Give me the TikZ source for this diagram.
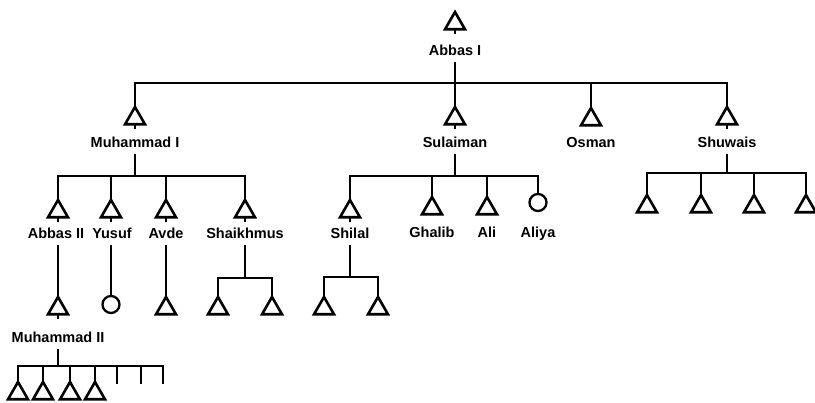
\documentclass[tikz,border=0pt]{standalone}
\usepackage{fontspec}
\setmainfont{Liberation Sans}
\usetikzlibrary{shapes.geometric}
\begin{document}
\begin{tikzpicture}[x=1pt,y=-1pt,line width=2.7pt,
 male/.style={regular polygon,regular polygon sides=3,draw,fill=white,minimum size=23pt,inner sep=0pt,outer sep=0pt,anchor=north,line width=2.6pt},
 female/.style={circle,draw,fill=white,minimum size=17pt,inner sep=0pt,outer sep=0pt,anchor=north,line width=2.3pt},
 lbl/.style={font=\bfseries\fontsize{14.5}{15}\selectfont,inner xsep=1pt,inner ysep=5pt,text height=11pt,text depth=0pt},
 stub/.style={line width=2.7pt}]
\useasboundingbox (0,0) rectangle (815,403);
% generation 0
\node[male] (t0) at (455,12) {};
\node[lbl] (l0) at (455,50) {Abbas I};
\coordinate (b0) at (455,83);
% generation 1
\node[male] (t1) at (135,107) {};
\node[lbl] (l1) at (135,142) {Muhammad I};
\node[male] (t2) at (455,107) {};
\node[lbl] (l2) at (455,142) {Sulaiman};
\node[male] (t3) at (591,108) {};
\node[lbl] (l3) at (591,142) {Osman};
\node[male] (t4) at (727,107) {};
\node[lbl] (l4) at (727,142) {Shuwais};
% Muhammad I's children
\coordinate (b1) at (135,176);
\node[male] (t11) at (58,200) {};
\node[lbl] (l11) at (56,233) {Abbas II};
\node[male] (t12) at (111,200) {};
\node[lbl] (l12) at (112,233) {Yusuf};
\node[male] (t13) at (166,200) {};
\node[lbl] (l13) at (166,233) {Avde};
\node[male] (t14) at (245,200) {};
\node[lbl] (l14) at (245,233) {Shaikhmus};
% Abbas II
\node[male] (t111) at (58,297) {};
\node[lbl] (l111) at (58,337) {Muhammad II};
\coordinate (b111) at (58,366);
\node[male] (m1) at (18,382) {};
\node[male] (m2) at (43,382) {};
\node[male] (m3) at (70,382) {};
\node[male] (m4) at (95,382) {};
\coordinate (m5) at (117,384);
\coordinate (m6) at (141,384);
\coordinate (m7) at (163,384);
% Yusuf, Avde
\node[female] (f121) at (111,296) {};
\node[male] (t131) at (166,297) {};
% Shaikhmus
\coordinate (b14) at (245,278);
\node[male] (t141) at (218,297) {};
\node[male] (t142) at (272,297) {};
% Sulaiman's children
\coordinate (b2) at (455,176);
\node[male] (t21) at (350,200) {};
\node[lbl] (l21) at (350,233) {Shilal};
\node[male] (t22) at (432,197) {};
\node[lbl] (l22) at (432,232) {Ghalib};
\node[male] (t23) at (487,197) {};
\node[lbl] (l23) at (487,232) {Ali};
\node[female] (f24) at (538,194) {};
\node[lbl] (l24) at (538,232) {Aliya};
% Shilal
\coordinate (b21) at (350,277);
\node[male] (t211) at (324,297) {};
\node[male] (t212) at (378,297) {};
% Shuwais
\coordinate (b4) at (727,173);
\node[male] (t41) at (647,195) {};
\node[male] (t42) at (701,195) {};
\node[male] (t43) at (754,195) {};
\node[male] (t44) at (806,195) {};
% stubs below triangles
\foreach \n in {t0,t1,t2,t4,t11,t12,t13,t14,t21,t111}
  \draw[stub] (\n.south) -- ++(0,5);
% connectors
\draw (l0.south) -- (b0);
\foreach \n in {t1,t2,t3,t4} \draw (\n.north) |- (b0);
\draw (l1.south) -- (b1);
\foreach \n in {t11,t12,t13,t14} \draw (\n.north) |- (b1);
\draw (t111.north) -- (t111.north |- l11.south);
\draw (l111.south) -- (b111);
\foreach \n in {m1,m2,m3,m4} \draw (\n.north) |- (b111);
\foreach \n in {m5,m6,m7} \draw (\n) |- (b111);
\draw (f121.north) -- (f121.north |- l12.south);
\draw (l13.south) -- (t131.north);
\draw (l14.south) -- (b14);
\foreach \n in {t141,t142} \draw (\n.north) |- (b14);
\draw (l2.south) -- (b2);
\foreach \n in {t21,t22,t23,f24} \draw (\n.north) |- (b2);
\draw (l21.south) -- (b21);
\foreach \n in {t211,t212} \draw (\n.north) |- (b21);
\draw (l4.south) -- (b4);
\foreach \n in {t41,t42,t43,t44} \draw (\n.north) |- (b4);
\end{tikzpicture}
\end{document}
